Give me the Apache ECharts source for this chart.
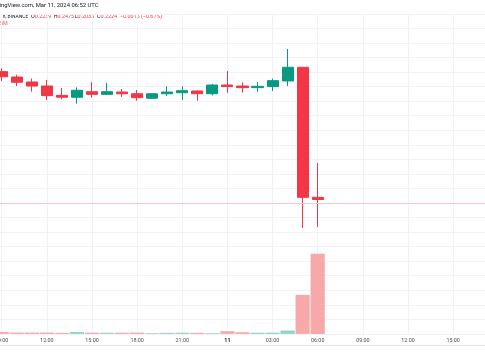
<!DOCTYPE html>
<html>
<head>
<meta charset="utf-8">
<script src="https://cdn.jsdelivr.net/npm/echarts@6/dist/echarts.min.js"></script>
<style>
html,body{margin:0;padding:0;background:#fff;overflow:hidden;width:485px;height:360px;}
#c{position:absolute;left:-8px;top:0;width:500px;height:360px;}
</style>
</head>
<body>
<div id="c"></div>
<script>
// Hourly axis: 09:00 Mar 10 -> 17:00 Mar 11
const hours = ['09:00','10:00','11:00','12:00','13:00','14:00','15:00','16:00','17:00','18:00','19:00','20:00','21:00','22:00','23:00','11','01:00','02:00','03:00','04:00','05:00','06:00','07:00','08:00','09:00','10:00','11:00','12:00','13:00','14:00','15:00','16:00','17:00'];
const opens  = [0.3103,0.3066,0.3032,0.3004,0.2940,0.2927,0.2965,0.2947,0.2963,0.2951,0.2920,0.2951,0.2958,0.2970,0.2951,0.3011,0.3004,0.2993,0.3000,0.3039,0.3133,0.2239];
const closes = [0.3068,0.3030,0.3004,0.2938,0.2927,0.2975,0.2947,0.2965,0.2951,0.2924,0.2951,0.2963,0.2972,0.2951,0.3011,0.3000,0.2993,0.3002,0.3041,0.3133,0.2239,0.2224];
const lows   = [0.3039,0.3004,0.2965,0.2908,0.2913,0.2883,0.2924,0.2943,0.2929,0.2903,0.2915,0.2936,0.2908,0.2903,0.2940,0.2958,0.2958,0.2965,0.2970,0.3004,0.2028,0.2035];
const highs  = [0.3126,0.3082,0.3055,0.3046,0.2991,0.2995,0.3030,0.3027,0.2984,0.2977,0.2954,0.3002,0.3002,0.2972,0.3018,0.3108,0.3030,0.3032,0.3055,0.3259,0.3133,0.2475];
const volumesM = [2.5,1.6,1.6,1.7,1.3,2.4,1.6,1.5,1.5,1.6,0.9,1.4,1.5,1.4,0.9,3.4,2.1,1.5,1.6,4.2,48.8,100.3];
const lastClose = 0.2224;
const gridHours = [0,3,6,9,12,15,18,21,24,27,30];

const UP = '#089981', DOWN = '#F23645';
const UPV = '#92D3C9', DOWNV = '#F7A8A8';
const FONT = 'Roboto, "DejaVu Sans", sans-serif';
const FS = 5.4;
const GRIDC = '#f1f2f5';
const SHIFT = 8; // container is shifted 8px left of the page

const candleData = opens.map((o,i)=>[o, closes[i], lows[i], highs[i]]);
const volData = volumesM.map((v,i)=>({value:v, itemStyle:{color: closes[i]>=opens[i]?UPV:DOWNV}}));

function txt(x, y, text, fill, size, rich){
  return {type:'text', x:x+SHIFT, y:y, silent:true,
    style:{text:text, fill:fill, font:`${size}px ${FONT}`, verticalAlign:'middle', align:'left', rich:rich}};
}
const rk = (s)=>({k:{fill:'#131722',font:`${s}px ${FONT}`},v:{fill:DOWN,font:`${s}px ${FONT}`}});

const chart = echarts.init(document.getElementById('c'), null, {renderer:'canvas'});
chart.setOption({
  backgroundColor:'#ffffff',
  animation:false,
  grid:{left:0.45, right:1.25, top:13.9, bottom:26.1, containLabel:false},
  xAxis:{
    type:'category', data:hours, boundaryGap:true,
    axisLine:{show:false}, axisTick:{show:false},
    axisLabel:{
      interval:2, margin:4, fontSize:FS, color:'#4a4e59', fontFamily:FONT,
      formatter:(v)=> v==='11' ? '{b|11}' : v,
      rich:{b:{fontWeight:'bold', fontSize:FS, color:'#131722', fontFamily:FONT}}
    },
    splitLine:{show:false}
  },
  yAxis:[
    {type:'value', min:0.13, max:0.35, interval:0.01, scale:false,
     axisLine:{show:false}, axisTick:{show:false}, axisLabel:{show:false},
     splitLine:{show:true, lineStyle:{color:GRIDC, width:1}}},
    {type:'value', min:0, max:400, show:false, splitLine:{show:false}}
  ],
  series:[
    {type:'bar', yAxisIndex:1, data:volData, barWidth:14.2, barGap:'0%', silent:true, z:1,
     markLine:{silent:true, symbol:'none', label:{show:false}, z:0,
       lineStyle:{color:GRIDC, type:'solid', width:1},
       data:gridHours.map(i=>({xAxis:i}))}},
    {type:'candlestick', yAxisIndex:0, data:candleData, barWidth:11.6, z:3,
     itemStyle:{color:UP, color0:DOWN, borderColor:UP, borderColor0:DOWN, borderWidth:1},
     markLine:{silent:true, symbol:'none', label:{show:false},
       lineStyle:{color:'#f6c9cc', type:'solid', width:1},
       data:[{yAxis:lastClose}]}}
  ],
  graphic:[
    {type:'line', shape:{x1:0,y1:345.5,x2:500,y2:345.5}, style:{stroke:'#e6e8ee', lineWidth:1}, silent:true},
    txt(-0.5, 6, 'ingView.com, Mar 11, 2024 06:52 UTC', '#131722', 5.9),
    txt(0, 16.7, '1h, BINANCE', '#131722', 4.9),
    txt(31, 16.7, '{k|O}{v|0.2239}', DOWN, FS, rk(FS)),
    txt(53.7, 16.7, '{k|H}{v|0.2475}', DOWN, FS, rk(FS)),
    txt(74.7, 16.7, '{k|L}{v|0.2035}', DOWN, FS, rk(FS)),
    txt(97, 16.7, '{k|C}{v|0.2224}', DOWN, FS, rk(FS)),
    txt(120, 16.7, '\u22120.0015 (\u22120.67%)', DOWN, FS),
    txt(0, 24, '5M', '#f7525f', FS)
  ]
});
</script>
</body>
</html>
